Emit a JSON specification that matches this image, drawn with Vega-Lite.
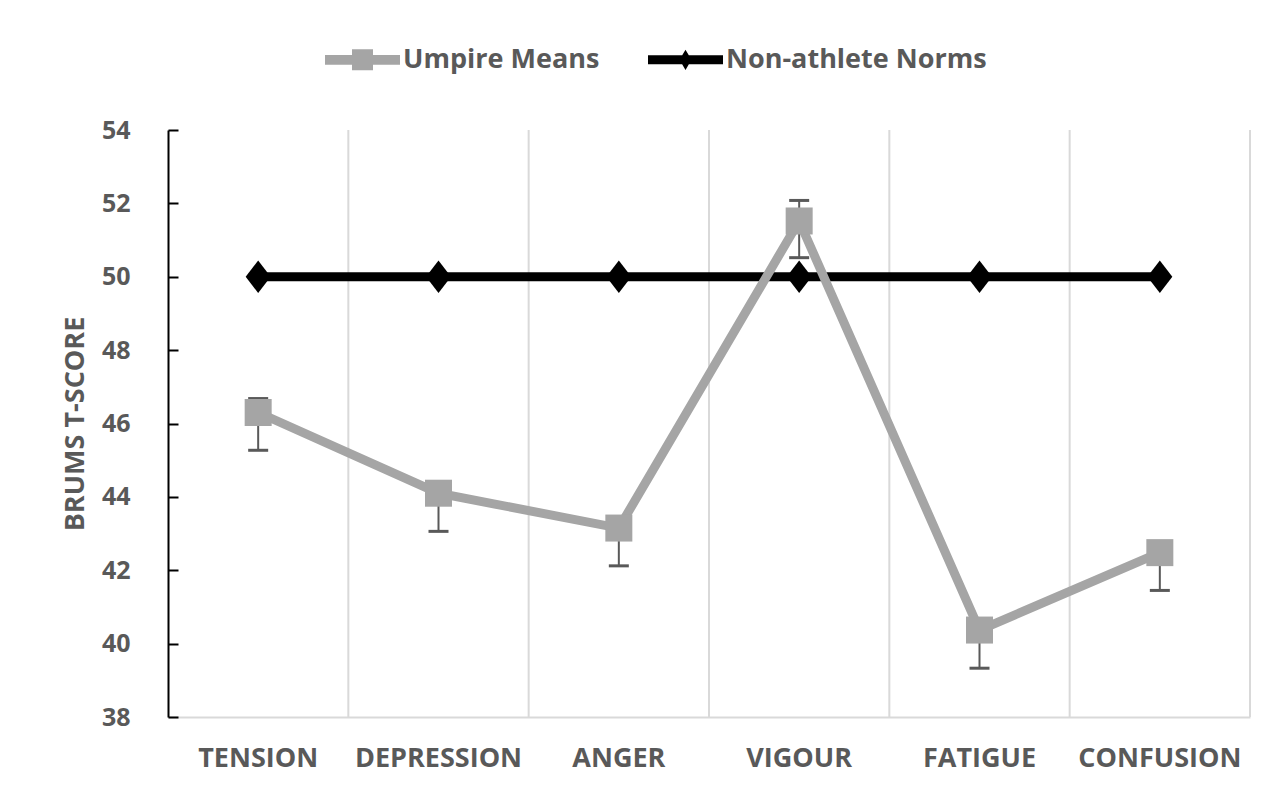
{
  "$schema": "https://vega.github.io/schema/vega-lite/v6.json",
  "width": 1082,
  "height": 587,
  "autosize": {"type": "none"},
  "padding": {"left": 168, "top": 130, "right": 38, "bottom": 79},
  "background": "white",
  "config": {
    "view": {"stroke": null},
    "font": "Open Sans",
    "axis": {"labelFont": "Open Sans", "titleFont": "Open Sans", "labelColor": "#595959", "titleColor": "#595959", "labelFontWeight": "bold", "titleFontWeight": "bold", "labelFontSize": 27, "titleFontSize": 27},
    "legend": {"labelFont": "Open Sans", "labelFontSize": 27, "labelFontWeight": "bold", "labelColor": "#595959", "labelLimit": 0}
  },
  "datasets": {
    "scores": [
      {"category": "TENSION", "series": "Umpire Means", "mean": 46.3, "lo": 45.27, "hi": 46.68},
      {"category": "DEPRESSION", "series": "Umpire Means", "mean": 44.1, "lo": 43.06, "hi": 44.4},
      {"category": "ANGER", "series": "Umpire Means", "mean": 43.15, "lo": 42.12, "hi": 43.45},
      {"category": "VIGOUR", "series": "Umpire Means", "mean": 51.52, "lo": 50.52, "hi": 52.08},
      {"category": "FATIGUE", "series": "Umpire Means", "mean": 40.37, "lo": 39.33, "hi": 40.67},
      {"category": "CONFUSION", "series": "Umpire Means", "mean": 42.48, "lo": 41.45, "hi": 42.78},
      {"category": "TENSION", "series": "Non-athlete Norms", "mean": 50},
      {"category": "DEPRESSION", "series": "Non-athlete Norms", "mean": 50},
      {"category": "ANGER", "series": "Non-athlete Norms", "mean": 50},
      {"category": "VIGOUR", "series": "Non-athlete Norms", "mean": 50},
      {"category": "FATIGUE", "series": "Non-athlete Norms", "mean": 50},
      {"category": "CONFUSION", "series": "Non-athlete Norms", "mean": 50}
    ],
    "grid": [
      {"category": "DEPRESSION"},
      {"category": "ANGER"},
      {"category": "VIGOUR"},
      {"category": "FATIGUE"},
      {"category": "CONFUSION"}
    ],
    "gridEnd": [{"category": "CONFUSION"}]
  },
  "encoding": {
    "x": {
      "field": "category", "type": "nominal",
      "sort": ["TENSION", "DEPRESSION", "ANGER", "VIGOUR", "FATIGUE", "CONFUSION"],
      "scale": {"type": "band", "paddingInner": 0, "paddingOuter": 0, "domain": ["TENSION", "DEPRESSION", "ANGER", "VIGOUR", "FATIGUE", "CONFUSION"]},
      "axis": {"title": null, "labelAngle": 0, "ticks": false, "domainColor": "#d9d9d9", "domainWidth": 2, "labelPadding": 28, "grid": false}
    }
  },
  "layer": [
    {
      "data": {"name": "grid"},
      "mark": {"type": "rule", "color": "#d9d9d9", "strokeWidth": 2},
      "encoding": {"x": {"field": "category", "type": "nominal", "bandPosition": 0}}
    },
    {
      "data": {"name": "gridEnd"},
      "mark": {"type": "rule", "color": "#d9d9d9", "strokeWidth": 2},
      "encoding": {"x": {"field": "category", "type": "nominal", "bandPosition": 1}}
    },
    {
      "data": {"name": "scores"},
      "transform": [{"filter": "datum.series === 'Non-athlete Norms'"}],
      "mark": {"type": "line", "color": "black", "strokeWidth": 9},
      "encoding": {
        "y": {
          "field": "mean", "type": "quantitative",
          "scale": {"domain": [38, 54], "nice": false, "zero": false},
          "axis": {"title": "BRUMS T-SCORE", "values": [38, 40, 42, 44, 46, 48, 50, 52, 54], "grid": false, "domainColor": "black", "domainWidth": 2, "tickColor": "black", "tickWidth": 2, "tickSize": -10, "labelFontSize": 25, "labelPadding": 48, "titlePadding": 12}
        }
      }
    },
    {
      "data": {"name": "scores"},
      "transform": [{"filter": "datum.series === 'Non-athlete Norms'"}],
      "mark": {"type": "point", "shape": "M-1,0L0,-1.3L1,0L0,1.3Z", "size": 625, "filled": true, "color": "black", "opacity": 1},
      "encoding": {"y": {"field": "mean", "type": "quantitative"}}
    },
    {
      "data": {"name": "scores"},
      "transform": [{"filter": "datum.series === 'Umpire Means'"}],
      "mark": {"type": "rule", "color": "#595959", "strokeWidth": 2},
      "encoding": {"y": {"field": "lo", "type": "quantitative"}, "y2": {"field": "hi"}}
    },
    {
      "data": {"name": "scores"},
      "transform": [{"filter": "datum.series === 'Umpire Means'"}],
      "mark": {"type": "tick", "color": "#595959", "thickness": 3, "size": 20, "orient": "horizontal", "opacity": 1},
      "encoding": {"y": {"field": "lo", "type": "quantitative"}}
    },
    {
      "data": {"name": "scores"},
      "transform": [{"filter": "datum.series === 'Umpire Means'"}],
      "mark": {"type": "tick", "color": "#595959", "thickness": 3, "size": 20, "orient": "horizontal", "opacity": 1},
      "encoding": {"y": {"field": "hi", "type": "quantitative"}}
    },
    {
      "data": {"name": "scores"},
      "transform": [{"filter": "datum.series === 'Umpire Means'"}],
      "mark": {"type": "line", "color": "#a5a5a5", "strokeWidth": 9},
      "encoding": {"y": {"field": "mean", "type": "quantitative"}}
    },
    {
      "data": {"name": "scores"},
      "transform": [{"filter": "datum.series === 'Umpire Means'"}],
      "mark": {"type": "point", "shape": "square", "size": 729, "filled": true, "color": "#a5a5a5", "opacity": 1},
      "encoding": {"y": {"field": "mean", "type": "quantitative"}}
    },
    {
      "data": {"name": "scores"},
      "transform": [{"filter": "datum.mean < 0"}],
      "mark": {"type": "point", "filled": true, "opacity": 1},
      "encoding": {
        "y": {"field": "mean", "type": "quantitative"},
        "color": {
          "field": "series", "type": "nominal",
          "scale": {"domain": ["Umpire Means", "Non-athlete Norms"], "range": ["#a5a5a5", "black"]},
          "legend": {"title": null, "orient": "none", "direction": "horizontal", "legendX": 157, "legendY": -108, "symbolSize": 5625, "symbolStrokeWidth": 0, "symbolOpacity": 1, "labelOffset": 3, "columnPadding": 48, "padding": 0}
        },
        "shape": {
          "field": "series", "type": "nominal",
          "scale": {"domain": ["Umpire Means", "Non-athlete Norms"], "range": [
            "M-1,-0.13L1,-0.13L1,0.13L-1,0.13Z M-0.28,-0.28L0.28,-0.28L0.28,0.28L-0.28,0.28Z",
            "M-1,-0.12L1,-0.12L1,0.12L-1,0.12Z M-0.16,0L0,-0.27L0.16,0L0,0.27Z"
          ]},
          "legend": {"title": null, "orient": "none", "direction": "horizontal", "legendX": 157, "legendY": -108, "symbolSize": 5625, "symbolStrokeWidth": 0, "symbolOpacity": 1, "labelOffset": 3, "columnPadding": 48, "padding": 0}
        }
      }
    }
  ]
}
